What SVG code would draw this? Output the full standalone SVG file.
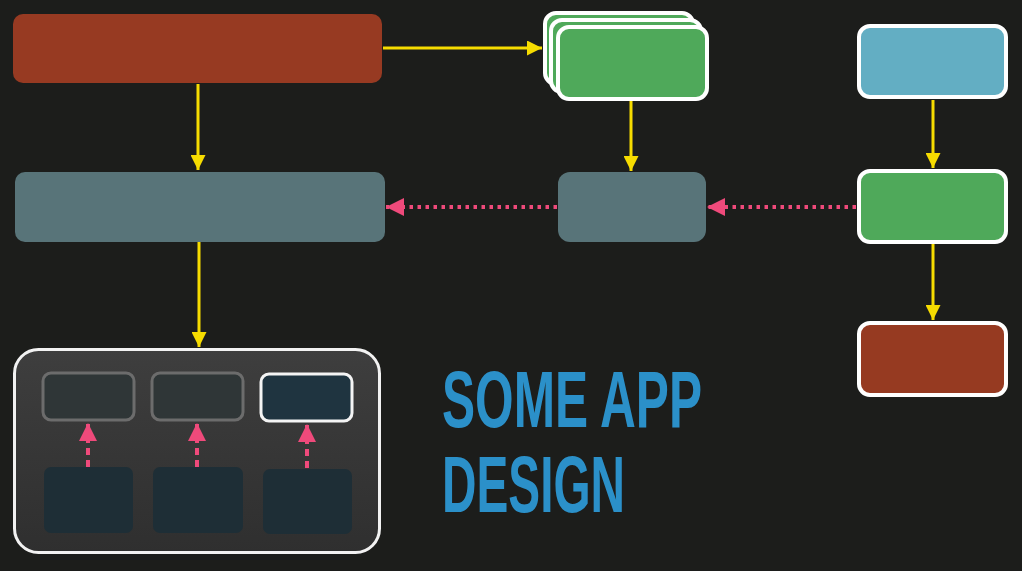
<svg xmlns="http://www.w3.org/2000/svg" width="1022" height="571" viewBox="0 0 1022 571">
  <style>
    .red { fill: #973a22; }
    .teal { fill: #587479; }
    .green { fill: #4fa95a; stroke: #ffffff; stroke-width: 4; }
    .blue { fill: #63aec3; stroke: #ffffff; stroke-width: 4; }
    .brown { fill: #963a21; stroke: #ffffff; stroke-width: 4; }
    .flow { stroke: #f6dc00; stroke-width: 3; fill: none; marker-end: url(#yellowHead); }
    .dots { stroke: #ef4a7b; stroke-width: 4; stroke-dasharray: 3.5 4.5; fill: none; marker-end: url(#pinkHead); }
    .dash { stroke: #ef4a7b; stroke-width: 4; stroke-dasharray: 7 5; fill: none; marker-end: url(#pinkHead); }
    .slot { fill: #2f3637; stroke: #6c6c6c; stroke-width: 3; }
    .slot-active { fill: #1f3440; stroke: #f4f4f4; stroke-width: 3; }
    .cell { fill: #1e2e36; }
    .title { font-family: "Liberation Sans", Arial, sans-serif; font-weight: bold; font-size: 80px; fill: #2b90c9; }
  </style>
  <defs>
    <marker id="yellowHead" viewBox="0 0 10 10" refX="10" refY="5" markerWidth="5" markerHeight="5" orient="auto" markerUnits="strokeWidth">
      <path d="M0,0 L10,5 L0,10 z" fill="#f6dc00"/>
    </marker>
    <marker id="pinkHead" viewBox="0 0 10 10" refX="10" refY="5" markerWidth="4.5" markerHeight="4.5" orient="auto" markerUnits="strokeWidth">
      <path d="M0,0 L10,5 L0,10 z" fill="#ef4a7b"/>
    </marker>
    <linearGradient id="panelFill" x1="0" y1="0" x2="0" y2="1">
      <stop offset="0" stop-color="#3e3e3e"/>
      <stop offset="1" stop-color="#2f2f2f"/>
    </linearGradient>
  </defs>

  <rect width="1022" height="571" fill="#1c1d1b"/>

  <g id="source">
    <rect class="red" x="13" y="14" width="369" height="69" rx="10"/>
  </g>

  <g id="stack">
    <rect class="green" x="545" y="13" width="148" height="71" rx="11"/>
    <rect class="green" x="551" y="20" width="150" height="72" rx="11"/>
    <rect class="green" x="558" y="27" width="149" height="72" rx="11"/>
  </g>

  <g id="store">
    <rect class="teal" x="15" y="172" width="370" height="70" rx="10"/>
  </g>

  <g id="adapter">
    <rect class="teal" x="558" y="172" width="148" height="70" rx="12"/>
  </g>

  <g id="input">
    <rect class="blue" x="859" y="26" width="147" height="71" rx="11"/>
  </g>

  <g id="process">
    <rect class="green" x="859" y="171" width="147" height="71" rx="11"/>
  </g>

  <g id="output">
    <rect class="brown" x="859" y="323" width="147" height="72" rx="11"/>
  </g>

  <g id="view">
    <rect x="14.5" y="349.5" width="365" height="203" rx="24" fill="url(#panelFill)" stroke="#f2f2f2" stroke-width="3"/>
    <rect class="slot" x="43" y="373" width="91" height="47" rx="8"/>
    <rect class="slot" x="152" y="373" width="91" height="47" rx="8"/>
    <rect class="slot-active" x="261" y="374" width="91" height="47" rx="8"/>
    <rect class="cell" x="44" y="467" width="89" height="66" rx="7"/>
    <rect class="cell" x="153" y="467" width="90" height="66" rx="7"/>
    <rect class="cell" x="263" y="469" width="89" height="65" rx="7"/>
  </g>

  <!-- arrows drawn last so they sit on top of the panel -->
  <g id="connectors">
    <line class="flow" x1="383" y1="48" x2="542" y2="48"/>
    <line class="flow" x1="198" y1="84" x2="198" y2="170"/>
    <line class="flow" x1="631" y1="101" x2="631" y2="171"/>
    <line class="flow" x1="199" y1="242" x2="199" y2="347"/>
    <line class="flow" x1="933" y1="100" x2="933" y2="168"/>
    <line class="flow" x1="933" y1="244" x2="933" y2="320"/>
    <line class="dots" x1="856" y1="207" x2="707" y2="207"/>
    <line class="dots" x1="557" y1="207" x2="386" y2="207"/>
    <line class="dash" x1="88" y1="467" x2="88" y2="423"/>
    <line class="dash" x1="197" y1="467" x2="197" y2="423"/>
    <line class="dash" x1="307" y1="468" x2="307" y2="424"/>
  </g>

  <g id="title">
    <text class="title" x="442" y="427" textLength="260" lengthAdjust="spacingAndGlyphs">SOME APP</text>
    <text class="title" x="442" y="512" textLength="183" lengthAdjust="spacingAndGlyphs">DESIGN</text>
  </g>
</svg>
